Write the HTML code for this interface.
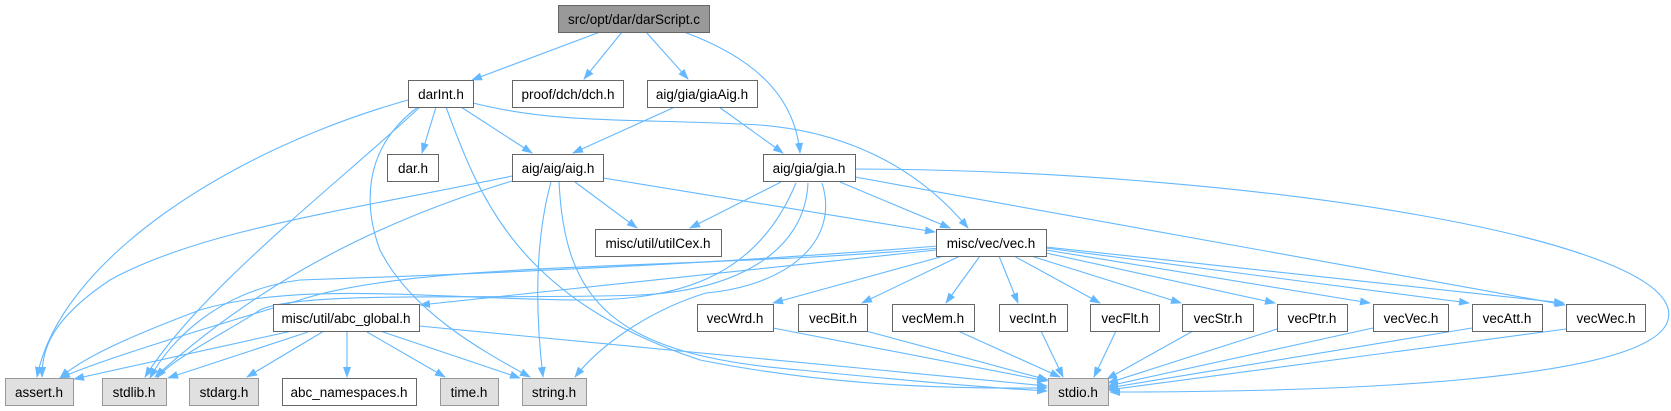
<!DOCTYPE html>
<html><head><meta charset="utf-8"><style>
html,body{margin:0;padding:0;background:#fff;}
svg{display:block;}
text{font-family:"Liberation Sans",Arial,sans-serif;font-size:13.5px;fill:#000;text-anchor:middle;}
.e{fill:none;stroke:#63b8ff;stroke-width:1.1;marker-end:url(#a);}
.w{fill:#fff;stroke:#666;stroke-width:1;}
.g{fill:#e0e0e0;stroke:#999;stroke-width:1;}
</style></head><body>
<svg width="1671" height="411" viewBox="0 0 1671 411">
<defs><marker id="a" markerWidth="11" markerHeight="8" refX="10" refY="4" orient="auto" markerUnits="userSpaceOnUse"><path d="M0,0 L11,4 L0,8 z" fill="#63b8ff"/></marker></defs>
<path class="e" d="M600,32 L472,80"/>
<path class="e" d="M622,32 L584,79"/>
<path class="e" d="M646,32 L688,79"/>
<path class="e" d="M684,32 C760,60 795,100 800,153"/>
<path class="e" d="M436,107 L422,153"/>
<path class="e" d="M461,107 L532,153"/>
<path class="e" d="M473,103 C560,125 640,118 760,125 C850,132 920,170 968,228"/>
<path class="e" d="M408,100 C230,150 60,260 37,377"/>
<path class="e" d="M420,107 C330,190 200,290 145,377"/>
<path class="e" d="M418,107 C360,150 365,210 380,250 C410,310 480,350 530,377"/>
<path class="e" d="M446,107 C480,200 520,300 700,360 C850,390 980,388 1047,388"/>
<path class="e" d="M675,107 L573,153"/>
<path class="e" d="M719,107 L783,153"/>
<path class="e" d="M512,176 C350,210 200,230 110,280 C50,320 42,350 42,377"/>
<path class="e" d="M512,181 C350,230 240,300 155,377"/>
<path class="e" d="M551,182 C535,240 535,310 543,377"/>
<path class="e" d="M559,182 C565,300 610,355 800,370 C920,382 990,388 1047,391"/>
<path class="e" d="M575,182 L637,228"/>
<path class="e" d="M603,178 L935,232"/>
<path class="e" d="M781,182 L690,228"/>
<path class="e" d="M840,182 L950,228"/>
<path class="e" d="M796,183 C760,270 690,300 585,300 C450,300 300,280 200,310 C120,340 80,360 60,378"/>
<path class="e" d="M808,183 C805,250 740,290 640,295 C500,300 300,290 260,310 C230,330 170,360 157,378"/>
<path class="e" d="M822,183 C840,240 790,285 706,293 C650,310 600,345 575,377"/>
<path class="e" d="M855,169 C1250,170 1690,240 1668,320 C1650,385 1300,392 1110,392"/>
<path class="e" d="M855,177 L1565,305"/>
<path class="e" d="M936,250 L420,305"/>
<path class="e" d="M940,248 C700,270 420,260 300,300 C200,330 100,360 60,378"/>
<path class="e" d="M938,246 C700,265 450,275 300,280 C220,290 170,340 150,378"/>
<path class="e" d="M944,256 L773,303"/>
<path class="e" d="M960,256 L862,303"/>
<path class="e" d="M980,256 L946,303"/>
<path class="e" d="M999,256 L1018,303"/>
<path class="e" d="M1014,256 L1100,303"/>
<path class="e" d="M1031,256 L1181,303"/>
<path class="e" d="M1046,253 L1275,303"/>
<path class="e" d="M1046,250 L1370,303"/>
<path class="e" d="M1046,248 L1469,303"/>
<path class="e" d="M1046,247 L1564,303"/>
<path class="e" d="M773,328 L1047,381"/>
<path class="e" d="M866,331 L1048,380"/>
<path class="e" d="M958,331 L1060,377"/>
<path class="e" d="M1041,331 L1063,377"/>
<path class="e" d="M1116,331 L1094,377"/>
<path class="e" d="M1193,331 L1107,379"/>
<path class="e" d="M1277,329 L1108,383"/>
<path class="e" d="M1373,328 L1108,386"/>
<path class="e" d="M1472,328 L1108,388"/>
<path class="e" d="M1566,329 L1108,390"/>
<path class="e" d="M292,331 L74,379"/>
<path class="e" d="M308,332 L168,378"/>
<path class="e" d="M324,331 L247,377"/>
<path class="e" d="M347,332 L347,377"/>
<path class="e" d="M367,332 L445,377"/>
<path class="e" d="M380,331 L520,378"/>
<path class="e" d="M419,326 L1047,386"/>
<rect x="558.5" y="5.5" width="151" height="27" fill="#999" stroke="#666"/><text x="634" y="24">src/opt/dar/darScript.c</text>
<rect class="w" x="408.5" y="80.5" width="65" height="27"/><text x="441" y="99">darInt.h</text>
<rect class="w" x="512.5" y="80.5" width="111" height="27"/><text x="568" y="99">proof/dch/dch.h</text>
<rect class="w" x="647.5" y="80.5" width="110" height="27"/><text x="702" y="99">aig/gia/giaAig.h</text>
<rect class="w" x="387.5" y="154.5" width="51" height="27"/><text x="413" y="173">dar.h</text>
<rect class="w" x="512.5" y="154.5" width="91" height="27"/><text x="558" y="173">aig/aig/aig.h</text>
<rect class="w" x="763.5" y="154.5" width="92" height="27"/><text x="809" y="173">aig/gia/gia.h</text>
<rect class="w" x="595.5" y="229.5" width="126" height="27"/><text x="658" y="248">misc/util/utilCex.h</text>
<rect class="w" x="936.5" y="229.5" width="110" height="27"/><text x="991" y="248">misc/vec/vec.h</text>
<rect class="w" x="273.5" y="304.5" width="146" height="27"/><text x="346" y="323">misc/util/abc_global.h</text>
<rect class="w" x="697.5" y="304.5" width="76" height="27"/><text x="735" y="323">vecWrd.h</text>
<rect class="w" x="798.5" y="304.5" width="69" height="27"/><text x="833" y="323">vecBit.h</text>
<rect class="w" x="892.5" y="304.5" width="82" height="27"/><text x="933" y="323">vecMem.h</text>
<rect class="w" x="999.5" y="304.5" width="68" height="27"/><text x="1033" y="323">vecInt.h</text>
<rect class="w" x="1090.5" y="304.5" width="69" height="27"/><text x="1125" y="323">vecFlt.h</text>
<rect class="w" x="1182.5" y="304.5" width="71" height="27"/><text x="1218" y="323">vecStr.h</text>
<rect class="w" x="1277.5" y="304.5" width="70" height="27"/><text x="1312" y="323">vecPtr.h</text>
<rect class="w" x="1373.5" y="304.5" width="75" height="27"/><text x="1411" y="323">vecVec.h</text>
<rect class="w" x="1472.5" y="304.5" width="70" height="27"/><text x="1507" y="323">vecAtt.h</text>
<rect class="w" x="1566.5" y="304.5" width="79" height="27"/><text x="1606" y="323">vecWec.h</text>
<rect class="g" x="5.5" y="378.5" width="68" height="27"/><text x="39" y="397">assert.h</text>
<rect class="g" x="102.5" y="378.5" width="64" height="27"/><text x="134" y="397">stdlib.h</text>
<rect class="g" x="189.5" y="378.5" width="69" height="27"/><text x="224" y="397">stdarg.h</text>
<rect class="w" x="282.5" y="378.5" width="134" height="27"/><text x="349" y="397">abc_namespaces.h</text>
<rect class="g" x="440.5" y="378.5" width="58" height="27"/><text x="469" y="397">time.h</text>
<rect class="g" x="522.5" y="378.5" width="64" height="27"/><text x="554" y="397">string.h</text>
<rect class="g" x="1048.5" y="378.5" width="60" height="27"/><text x="1078" y="397">stdio.h</text>
</svg>
</body></html>
